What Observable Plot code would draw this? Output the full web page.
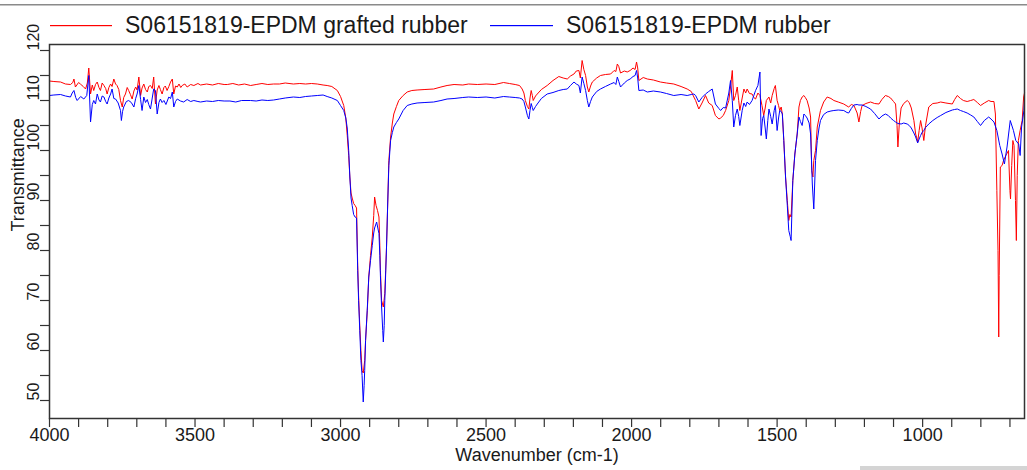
<!DOCTYPE html>
<html><head><meta charset="utf-8">
<script src="https://cdn.jsdelivr.net/npm/d3@7"></script>
<script src="https://cdn.jsdelivr.net/npm/@observablehq/plot@0.6"></script>
<style>
body{margin:0;background:#fff}
#wrap{position:relative;width:1027px;height:470px;overflow:hidden;background:#fff;font-family:"Liberation Sans",Arial,sans-serif}
#wrap svg{display:block}
.lgline{position:absolute;height:1px;top:25px}
</style>
</head><body><div id="wrap"></div>
<script>
const seriesNames = ["S06151819-EPDM grafted rubber", "S06151819-EPDM rubber"];
const seriesColors = ["#ff0000", "#0000ff"];
const xTickLabels = [4000, 3500, 3000, 2500, 2000, 1500, 1000];
const xMinorTicks = [4000,3900,3800,3700,3600,3500,3400,3300,3200,3100,3000,2900,2800,2700,2600,2500,2400,2300,2200,2100,2000,1900,1800,1700,1600,1500,1400,1300,1200,1100,1000,900,800,700];
const yTickLabels = [50, 60, 70, 80, 90, 100, 110, 120];
const yMinorTicks = [50,55,60,65,70,75,80,85,90,95,100,105,110,115,120];

// [wavenumber, transmittance]
const grafted = [
[4000,113.9],[3985,113.8],[3962,113.7],[3945,113.3],[3928,113.2],[3920,113.6],[3916,114.3],[3911,112.7],[3900,113.6],[3894,113.3],[3884,112.8],[3876,112.3],[3870,113.5],[3865,116.5],[3859,111.3],[3853,113.1],[3848,112],[3842,113.2],[3836,113.7],[3830,112.6],[3825,112],[3819,113.5],[3813,113],[3807,112.4],[3802,111.3],[3796,112.6],[3790,113.3],[3785,112.8],[3779,114.3],[3773,113.3],[3768,113],[3762,112.2],[3756,110],[3750,108.7],[3745,110.6],[3739,111.3],[3733,112.6],[3728,112],[3722,111.2],[3716,110.3],[3710,111.9],[3704,112.7],[3699,112.1],[3693,114.7],[3687,111],[3682,112.5],[3676,113.3],[3670,112.2],[3664,111.7],[3659,112.8],[3653,113],[3647,112.4],[3642,114.7],[3636,109.3],[3630,112.1],[3624,113],[3619,112.2],[3613,111.3],[3607,112.6],[3602,112.9],[3596,112],[3590,112.8],[3584,113.7],[3578,114.3],[3573,111.3],[3567,112.9],[3561,112.7],[3555,113.3],[3549,112.6],[3544,113],[3535,113.3],[3527,112.7],[3515,113.2],[3504,113],[3490,113.4],[3481,113.1],[3460,113.3],[3440,113.1],[3420,113.4],[3400,113.2],[3389,113.2],[3370,113.4],[3350,113.1],[3330,113.3],[3309,113.0],[3290,113.2],[3270,113.4],[3250,113.2],[3230,113.3],[3210,113.3],[3190,113.5],[3162,113.3],[3140,113.4],[3120,113.3],[3100,113.4],[3080,113.3],[3060,113.1],[3046,113.0],[3030,112.8],[3011,112],
[3000,110.8],[2989,109],[2982,106.5],[2977,103],[2972,99],[2968,94.7],[2964,91.5],[2960,90.5],[2955,89.4],[2950,89],[2945,88.5],[2941,77],[2938,71],[2934,65],[2930,60],[2926,56],[2922,55.5],[2917,58],[2914,62],[2908,68],[2903,74.7],[2897,79],[2891,82.7],[2886,87],[2883,90.7],[2878,89],[2873,88],[2868,86.7],[2865,81],[2863,76],[2859,70],[2853,68.7],[2848,71.4],[2845,76],[2842,80.7],[2838,89.3],[2834,98],[2828,102.7],[2822,105.5],[2817,107.3],[2808,108.8],[2800,110],[2785,111],[2771,111.7],[2755,112],[2737,112.1],[2710,112.2],[2680,112.3],[2655,112.7],[2634,113],[2610,113.2],[2580,113.1],[2560,113.3],[2530,113.2],[2500,113.3],[2470,113.2],[2440,113.6],[2420,113.4],[2400,113.2],[2385,113],[2376,112.3],[2370,111.5],[2365,110],[2358,108.8],[2353,108.3],[2349,110.5],[2345,112],[2341,111],[2338,110],[2330,110.9],[2324,111.3],[2310,112.2],[2290,113],[2270,114],[2250,114.8],[2235,114.5],[2221,114.3],[2210,114.9],[2198,115.3],[2190,115.9],[2181,116],[2176,114.5],[2170,118],[2164,116.2],[2158,115],[2152,112.7],[2147,111.7],[2141,112.9],[2135,113.7],[2120,114.5],[2107,115],[2090,115.2],[2072,115.3],[2060,116],[2054,115.8],[2049,117.3],[2044,116.8],[2038,115.5],[2025,115.9],[2015,115.7],[2005,116],[1995,116.5],[1988,116.2],[1983,117.7],[1979,116.5],[1975,114],[1960,114.6],[1946,114.3],[1925,114.1],[1901,113.7],[1880,113.5],[1855,113.3],[1830,112.8],[1809,112.3],[1795,111.8],[1786,110.7],
[1780,110],[1769,108.3],[1758,109.5],[1746,111],[1735,109.5],[1723,109],[1712,107],[1700,106.3],[1694,106.5],[1685,107],[1677,108],[1666,110],[1660,112.7],[1654,116],[1649,110],[1643,111],[1637,112.7],[1632,110],[1628,108],[1620,110.5],[1614,112.3],[1608,111.5],[1603,112.3],[1595,111.4],[1586,111.3],[1580,110.6],[1574,110.3],[1566,111.5],[1559,111],[1552,109],[1546,107],[1541,108.5],[1537,110],[1528,110.7],[1522,109.5],[1517,111],[1510,112.4],[1506,113],[1500,110],[1495,109],[1491,108],[1486,108.7],[1482,107.3],[1477,102],[1471,94.7],[1465,90],[1460,86],[1456,87.2],[1452,86.7],[1446,94],[1439,99.3],[1431,103.3],[1425,108.7],[1420,110],[1414,110.7],[1408,111],[1403,110.6],[1397,110],[1390,108.5],[1385,106.7],[1381,96],[1377,94.7],[1374,98],[1368,100],[1362,104.7],[1356,106.5],[1351,108],[1340,109.7],[1328,110.7],[1315,110.4],[1305,110],[1290,109.7],[1271,109.3],[1260,108.9],[1254,108.7],[1245,109.2],[1236,109],[1225,107.5],[1219,105.7],[1213,107.8],[1208,109],[1195,109.4],[1179,109.7],[1165,109.4],[1150,109.3],[1140,110.2],[1128,111],[1118,110.8],[1110,110.5],[1100,109.8],[1093,109.3],[1088,105],[1085,100.7],[1080,105.5],[1074,108.5],[1065,109.4],[1053,110],[1046,109.6],[1039,108.5],[1030,106],[1024,103.3],[1020,102.5],[1017,101.7],[1012,104],[1007,106],[1002,104.5],[996,102],[990,105],[979,108.7],[965,109.4],[950,109.5],[938,109.7],[920,109.5],[898,109.3],[890,110.2],[881,111],[870,110.4],[860,110],[847,109.8],[835,110],[824,110.2],[812,109.6],[801,109],[788,109.5],[773,110],[765,109.8],[755,109.8],[750,107.3],[745,92],[741,80],[738.5,62.7],[737,75],[733,96.7],[727,97],[722,98],[714,99],[705,100],[700,92],[698,90.3],[694,97],[690,102],[686,101],[681,90],[678,82],[675,95],[671,102],[665,104],[658,106],[653,110.7],[650,111.5]
];

const rubber = [
[4000,111],[3985,111.1],[3962,111.2],[3945,110.9],[3928,110.7],[3922,111.5],[3916,112],[3910,110.6],[3905,110],[3893,110.8],[3882,110.3],[3872,111],[3865,115],[3859,105.7],[3853,109.2],[3848,110],[3842,109.3],[3836,111.3],[3830,110.1],[3825,109.7],[3819,110.9],[3813,110.7],[3807,109.8],[3802,109.3],[3796,110.5],[3790,111.3],[3785,112.3],[3779,110.4],[3773,110.3],[3764,109.5],[3756,108],[3753,106],[3749,107.8],[3745,108.7],[3736,109.8],[3728,110],[3719,109.6],[3710,108.7],[3704,110.4],[3699,111.3],[3693,113],[3687,110.2],[3682,108],[3676,110.7],[3670,109.6],[3664,110.2],[3659,109.2],[3653,108.3],[3647,110.5],[3642,112.3],[3636,112],[3630,107.3],[3624,109.6],[3619,110.3],[3613,109.6],[3607,110],[3600,109.2],[3590,110.7],[3584,110.4],[3578,111.7],[3573,108.7],[3567,109.8],[3561,110.3],[3550,109.9],[3539,109.7],[3527,110.2],[3515,109.8],[3504,110],[3490,109.8],[3481,109.7],[3460,109.9],[3440,109.8],[3420,110],[3400,109.9],[3380,109.9],[3360,109.7],[3340,110],[3309,110.0],[3290,109.9],[3270,110.1],[3250,110],[3230,110.1],[3210,110.3],[3190,110.5],[3162,110.7],[3140,110.6],[3120,110.8],[3100,110.9],[3080,111.0],[3060,111.1],[3046,110.8],[3030,110.5],[3011,110],
[3000,109],[2989,108],[2982,106.5],[2977,104.5],[2972,100],[2968,94.7],[2964,90.5],[2960,89],[2955,87.2],[2950,86.7],[2945,86.5],[2941,76],[2938,70],[2934,64],[2930,58],[2926,55],[2922,49.7],[2919,53],[2917,56],[2914,62],[2908,68.5],[2903,74.7],[2897,78],[2891,81],[2886,83.5],[2883,84.5],[2876,85.7],[2872,84.5],[2868,83.4],[2865,79],[2863,75],[2859,68.7],[2855,64],[2853,61.7],[2850,65],[2848,70],[2842,80.7],[2838,89.3],[2834,97],[2828,102],[2822,103.6],[2817,104.7],[2808,105.6],[2800,106.3],[2785,108],[2771,109],[2755,109.3],[2737,109.5],[2710,109.6],[2680,109.7],[2655,110],[2634,110.3],[2610,110.4],[2580,110.6],[2560,110.7],[2530,110.6],[2500,110.7],[2470,110.5],[2440,110.8],[2420,110.7],[2400,110.6],[2385,110.5],[2376,110.3],[2370,109.8],[2365,108.7],[2358,107],[2353,106.3],[2349,108],[2345,109.4],[2341,108.6],[2338,108],[2330,108.8],[2324,109.3],[2310,110.4],[2290,111.3],[2270,111.6],[2250,112],[2235,112.2],[2221,112.3],[2210,113],[2198,113.7],[2190,113.3],[2181,113],[2176,111.5],[2170,114.7],[2164,113.4],[2158,112],[2152,110],[2147,108.7],[2141,109.8],[2135,110.7],[2120,111.8],[2107,112.3],[2090,112.8],[2072,113.3],[2060,113.6],[2054,113.2],[2049,114.7],[2044,113.8],[2038,112.7],[2025,113.5],[2015,114],[2005,114.3],[1995,114.8],[1988,115],[1983,116],[1979,114.5],[1975,112],[1960,112.1],[1946,111.7],[1925,111.9],[1901,111.7],[1880,111.4],[1855,111],[1830,111.2],[1809,111],[1795,111.2],[1786,111.3],
[1780,111],[1769,109.7],[1758,110.6],[1746,111.3],[1735,111.8],[1723,112.3],[1712,109.3],[1700,108.4],[1694,108],[1685,108.6],[1677,108.5],[1666,111.5],[1660,114],[1654,110],[1649,104.7],[1643,107],[1637,108.3],[1632,106.8],[1628,105],[1620,108],[1614,109.5],[1608,108.8],[1603,109.7],[1595,109.2],[1586,110],[1580,111],[1574,112],[1566,113],[1559,115.7],[1555,103],[1550,106.4],[1546,107],[1541,104.5],[1537,102.3],[1532,106],[1528,108.3],[1522,106.8],[1517,105.3],[1510,108],[1506,109],[1500,104],[1495,106.5],[1491,108],[1486,107.8],[1482,107.3],[1477,102],[1471,94.7],[1465,89],[1460,84],[1455,82.8],[1452,82],[1446,94],[1439,99.3],[1431,103.3],[1425,106.7],[1420,105.8],[1414,105],[1408,107.3],[1403,107],[1397,106.5],[1390,105.5],[1385,103.3],[1379,93.3],[1374,88.3],[1368,98],[1362,102],[1356,104.5],[1351,106],[1340,107.2],[1328,107.7],[1315,107.9],[1305,108],[1290,108.1],[1271,108],[1260,107.6],[1254,107.5],[1245,108.4],[1236,109.1],[1225,109.2],[1219,109.1],[1208,109.1],[1195,108.8],[1179,108.3],[1165,107.4],[1150,106.3],[1140,106.9],[1128,107.3],[1118,107],[1110,106.5],[1100,106],[1093,105.7],[1085,105.4],[1074,105.3],[1065,105.5],[1053,105.3],[1046,105],[1039,104.5],[1030,103.5],[1024,102.7],[1017,101.5],[1012,102.3],[1007,103],[1002,103.6],[996,104],[990,104.6],[979,105.3],[965,106],[950,106.6],[938,107],[920,107.6],[898,108.1],[890,108.2],[881,108.3],[870,108],[860,107.8],[847,107.5],[835,107.1],[824,106.7],[812,105.8],[801,105],[788,106],[773,106.7],[765,106.3],[755,105.7],[745,104],[735,101],[727,99.3],[719,97.3],[710,100.7],[699,106],[688,104],[680,102],[670,101.3],[665,99],[660,104.7],[652,108],[650,110]
];

const wrap = document.getElementById("wrap");

// Legend (above the plot SVG)
const legend = d3.create("svg").attr("width", 1027).attr("height", 40)
  .style("font-family", '"Liberation Sans", Arial, sans-serif');
legend.append("rect").attr("x", 0).attr("y", 4).attr("width", 1027).attr("height", 1.5)
  .attr("fill", "#8a8a8a");
const legendX = [[50, 112, 125], [490, 553, 566]];
seriesNames.forEach((name, i) => {
  const [x1, x2, tx] = legendX[i];
  legend.append("rect").attr("x", x1).attr("y", 25).attr("width", x2 - x1).attr("height", 1.2)
    .attr("fill", seriesColors[i]);
  legend.append("text").attr("x", tx).attr("y", 33.3).attr("font-size", 23)
    .attr("fill", "#1a1a1a").text(name);
});
wrap.appendChild(legend.node());

const chart = Plot.plot({
  width: 1027,
  height: 430,
  marginTop: 4,
  marginBottom: 52,
  marginLeft: 49,
  marginRight: 3,
  x: {domain: [4000, 650]},
  y: {domain: [46.4, 121.2]},
  style: {fontFamily: '"Liberation Sans", Arial, sans-serif', color: "#1a1a1a", background: "white", overflow: "visible"},
  marks: [
    Plot.line(grafted, {x: d => d[0], y: d => d[1], stroke: seriesColors[0], strokeWidth: 1}),
    Plot.line(rubber, {x: d => d[0], y: d => d[1], stroke: seriesColors[1], strokeWidth: 1}),
    Plot.frame({stroke: "#333", strokeWidth: 1.5}),
    Plot.axisX(xMinorTicks, {tickSize: 9, tickFormat: () => "", stroke: "#333", strokeWidth: 1.2}),
    Plot.axisY(yMinorTicks, {tickSize: 9, tickFormat: () => "", stroke: "#333", strokeWidth: 1.2}),
    Plot.text(xTickLabels, {x: d => d, text: d => String(d), frameAnchor: "bottom", dy: 22, fontSize: 18, fill: "#1a1a1a"}),
    Plot.text(yTickLabels, {y: d => d, text: d => String(d), frameAnchor: "left", dx: -16, rotate: -90, fontSize: 16, fill: "#1a1a1a"}),
    Plot.text(["Wavenumber (cm-1)"], {frameAnchor: "bottom", dy: 42, fontSize: 18, fill: "#1a1a1a"}),
    Plot.text(["Transmittance"], {frameAnchor: "left", dx: -31, rotate: -90, fontSize: 18, fill: "#1a1a1a"})
  ]
});
wrap.appendChild(chart);

const bar = document.createElement("div");
bar.style.cssText = "position:absolute;left:860px;top:466px;width:167px;height:4px;background:#d4d4d4";
wrap.appendChild(bar);
</script>
</body></html>
